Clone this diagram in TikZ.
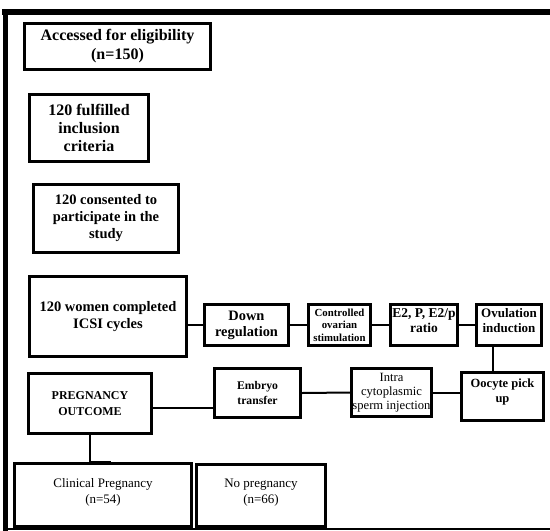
\documentclass[tikz,border=0pt]{standalone}
\usepackage{fontspec}
\setmainfont{Liberation Serif}
\usepackage{amsmath}

\begin{document}
\begin{tikzpicture}[x=1pt,y=-1pt,
    box/.style={draw,line width=3pt,fill=white,align=center,inner sep=1pt,
                font=\bfseries\fontsize{14.5}{17}\selectfont},
    link/.style={line width=2pt}]

      \useasboundingbox (0,0) rectangle (550,531);

      % frame
      \fill (2,9) rectangle (550,15);
      \fill (3,9) rectangle (8,531);
      \fill (3,528) rectangle (550,530);

      \begin{scope}[every node/.style={box}]
        \node[minimum width=186pt,minimum height=46pt,font=\bfseries\fontsize{16}{19}\selectfont]
             (access) at (117.5,46.5) {Accessed for eligibility\\(n=150)};
        \node[minimum width=119pt,minimum height=67pt,font=\bfseries\fontsize{16}{18}\selectfont]
             (fulfil) at (89,128) {120 fulfilled\\inclusion\\criteria};
        \node[minimum width=145pt,minimum height=68pt]
             (consent) at (106,218.5) {120 consented to\\participate in the\\study};
        \node[minimum width=157pt,minimum height=80pt]
             (women) at (108,316.5) {120 women completed\\ICSI cycles};

        \node[minimum width=84pt,minimum height=41pt,font=\bfseries\fontsize{14.4}{16}\selectfont]
             (down) at (246.5,325) {Down\\regulation};
        \node[minimum width=62pt,minimum height=41pt,font=\bfseries\fontsize{10.8}{12.5}\selectfont]
             (cos) at (339.5,325) {Controlled\\ovarian\\stimulation};
        \node[minimum width=67pt,minimum height=41pt,font=\bfseries\fontsize{13.5}{15}\selectfont,
              text depth=9pt]
             (ratio) at (424,325) {E2, P, E2/p\\ratio};
        \node[minimum width=65pt,minimum height=41pt,font=\bfseries\fontsize{13}{15}\selectfont,
              text depth=9pt]
             (ovul) at (509,325) {Ovulation\\induction};

        \node[minimum width=82pt,minimum height=48pt,font=\bfseries\fontsize{12.5}{15.5}\selectfont,
              text depth=12pt]
             (oocyte) at (502.5,396.5) {Oocyte pick\\up};
        \node[minimum width=80pt,minimum height=48pt,font=\fontsize{12.6}{14}\selectfont]
             (icsi) at (391.5,392.5) {Intra\\cytoplasmic\\sperm injection};
        \node[minimum width=86pt,minimum height=49pt,font=\bfseries\fontsize{11.7}{15}\selectfont]
             (embryo) at (257.5,393) {Embryo\\transfer};
        \node[minimum width=123pt,minimum height=60pt,font=\bfseries\fontsize{12}{16}\selectfont]
             (pout) at (90,403.5) {PREGNANCY\\OUTCOME};

        \node[minimum width=177pt,minimum height=63pt,font=\fontsize{13}{16}\selectfont,
              text depth=8pt]
             (clin) at (103,495) {Clinical Pregnancy\\(n=54)};
        \node[minimum width=129pt,minimum height=62pt,font=\fontsize{13}{16}\selectfont,
              text depth=8pt]
             (nopreg) at (261,495.5) {No pregnancy\\(n=66)};
      \end{scope}

      \begin{scope}[every path/.style={link}]
        \draw (down.west) -- (down.west -| women.east);
        \draw (down.east) -- (cos.west);
        \draw (cos.east) -- (ratio.west);
        \draw (ratio.east) -- (ovul.west);
        \draw ([xshift=-16pt]ovul.south) -- ([xshift=-16pt]ovul.south |- oocyte.north);
        \draw (icsi.east) -- (icsi.east -| oocyte.west);
        \draw (embryo.east) -- (icsi.west);
        \draw ([yshift=-4pt]pout.east) -- ([yshift=-4pt]pout.east -| embryo.west);
        \draw (pout.south) |- ([xshift=8pt]clin.north);
      \end{scope}

    \end{tikzpicture}
\end{document}
